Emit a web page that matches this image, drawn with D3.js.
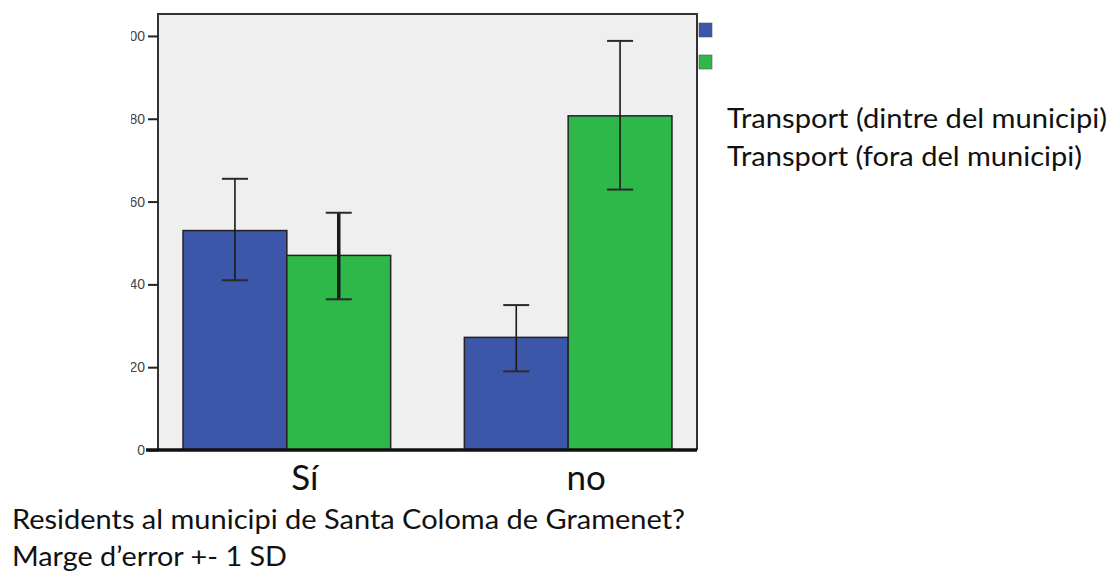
<!DOCTYPE html>
<html><head><meta charset="utf-8">
<script src="https://cdn.jsdelivr.net/npm/d3@7/dist/d3.min.js"></script>
<style>body{margin:0;background:#fff}svg{display:block}</style>
</head><body>
<script>
const categories = ["Sí", "no"];
const seriesNames = ["Transport (dintre del municipi)", "Transport (fora del municipi)"];
const dintreValues = [53, 27.2];
const foraValues = [47, 80.7];
const dintreLow = [41, 19];
const dintreHigh = [65.5, 35];
const foraLow = [36.4, 62.9];
const foraHigh = [57.3, 98.8];
const yTicks = [0, 20, 40, 60, 80, 100];
const footLines = ["Residents al municipi de Santa Coloma de Gramenet?", "Marge  d\u2019error +- 1 SD"];

const colors = ["#3c57aa", "#2fb84a"];
const W = 1116, H = 578;
const svg = d3.select("body").append("svg").attr("width", W).attr("height", H);
const plot = {l: 158, r: 697, t: 14, b: 450};

svg.append("rect").attr("x", plot.l).attr("y", plot.t).attr("width", plot.r - plot.l).attr("height", plot.b - plot.t).attr("fill", "#efefef");

const y = d3.scaleLinear().domain([0, 105.3]).range([plot.b, plot.t]);
const x0 = d3.scaleBand().domain(categories).range([plot.l, plot.r]).paddingInner(0.262).paddingOuter(0.089);
const x1 = d3.scaleBand().domain([0, 1]).range([0, x0.bandwidth()]);

const rows = [];
categories.forEach((c, i) => {
  rows.push({c, s: 0, v: dintreValues[i], lo: dintreLow[i], hi: dintreHigh[i]});
  rows.push({c, s: 1, v: foraValues[i], lo: foraLow[i], hi: foraHigh[i]});
});

svg.selectAll("rect.bar").data(rows).join("rect").attr("class", "bar")
  .attr("x", d => x0(d.c) + x1(d.s)).attr("width", x1.bandwidth())
  .attr("y", d => y(d.v)).attr("height", d => y(0) - y(d.v))
  .attr("fill", d => colors[d.s]).attr("stroke", "#222").attr("stroke-width", 1.5);

const eb = svg.selectAll("g.eb").data(rows).join("g").attr("class", "eb")
  .attr("transform", d => `translate(${x0(d.c) + x1(d.s) + x1.bandwidth() / 2},0)`);
const ebw = d => (d.c === "Sí" && d.s === 1) ? 3.5 : 1.6;
eb.append("line").attr("y1", d => y(d.lo)).attr("y2", d => y(d.hi)).attr("stroke", "#1a1a1a").attr("stroke-width", ebw);
eb.append("line").attr("x1", -13).attr("x2", 13).attr("y1", d => y(d.hi)).attr("y2", d => y(d.hi)).attr("stroke", "#2a2a2a").attr("stroke-width", 2);
eb.append("line").attr("x1", -13).attr("x2", 13).attr("y1", d => y(d.lo)).attr("y2", d => y(d.lo)).attr("stroke", "#2a2a2a").attr("stroke-width", 2);

// frame
svg.append("path").attr("d", `M${plot.l},${plot.b}V${plot.t}H${plot.r}V${plot.b}`).attr("fill", "none").attr("stroke", "#333").attr("stroke-width", 2);

// y axis (labels clipped at the left like the reference)
svg.append("defs").append("clipPath").attr("id", "ylab").append("rect").attr("x", 131 - plot.l).attr("y", 0).attr("width", 40).attr("height", H);
const ya = svg.append("g").attr("transform", `translate(${plot.l},0)`).attr("clip-path", "url(#ylab)")
  .call(d3.axisLeft(y).tickValues(yTicks).tickSize(10).tickPadding(3).tickFormat(d3.format("d")));
ya.select(".domain").remove();
ya.selectAll(".tick line").attr("stroke", "#222").attr("stroke-width", 2);
ya.selectAll(".tick text").attr("font-family", "Liberation Sans, Arial").style("font-size", "14px").attr("fill", "#444");

// bottom axis line
svg.append("line").attr("x1", 146).attr("x2", plot.r).attr("y1", plot.b).attr("y2", plot.b).attr("stroke", "#111").attr("stroke-width", 3.5);

// category labels
svg.selectAll("text.cat").data(categories).join("text").attr("class", "cat")
  .attr("x", d => x0(d) + x0.bandwidth() / 2 + 18).attr("y", 490)
  .attr("text-anchor", "middle").attr("font-family", "Lato, Open Sans, sans-serif").attr("font-size", 35).attr("fill", "#111")
  .text(d => d);

// legend swatches
svg.selectAll("rect.sw").data(seriesNames).join("rect").attr("class", "sw")
  .attr("x", 699).attr("y", (d, i) => 23 + i * 32).attr("width", 13).attr("height", 14)
  .attr("fill", (d, i) => colors[i]).attr("stroke", "#555").attr("stroke-width", 0.6);

// legend text
svg.selectAll("text.leg").data(seriesNames).join("text").attr("class", "leg")
  .attr("x", 727).attr("y", (d, i) => 128 + i * 38)
  .attr("font-family", "Lato, Open Sans, sans-serif").attr("font-size", 27).attr("fill", "#111")
  .attr("textLength", (d, i) => i === 0 ? 380 : 355).attr("lengthAdjust", "spacingAndGlyphs")
  .text(d => d);

// footnote
svg.selectAll("text.foot").data(footLines).join("text").attr("class", "foot")
  .attr("x", 12).attr("y", (d, i) => 529 + i * 37)
  .attr("font-family", "Lato, Open Sans, sans-serif").attr("font-size", 26).attr("fill", "#111")
  .attr("textLength", (d, i) => i === 0 ? 673 : 275).attr("lengthAdjust", "spacingAndGlyphs")
  .text(d => d);
</script>
</body></html>
